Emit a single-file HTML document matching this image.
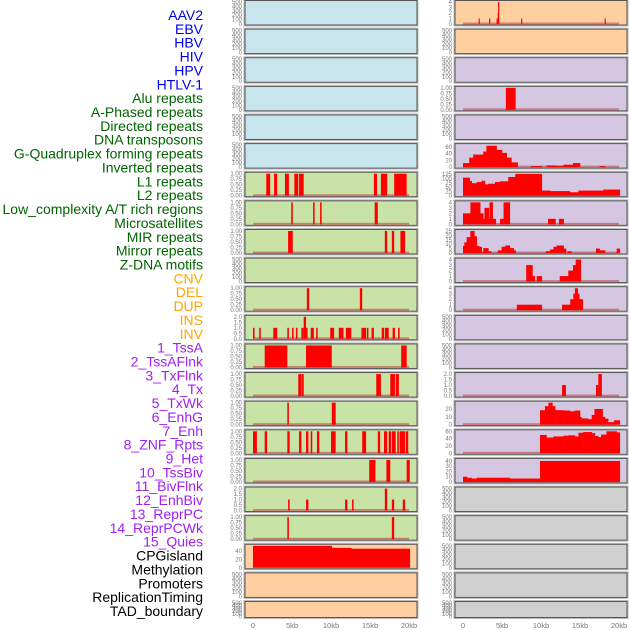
<!DOCTYPE html>
<html><head><meta charset="utf-8"><style>
html,body{margin:0;padding:0;background:#fff;width:630px;height:630px;overflow:hidden}
svg{display:block}
.lab{font-family:"Liberation Sans",sans-serif;font-size:14px}
.tk{font-family:"Liberation Sans",sans-serif;font-size:6px;fill:#777}
.xt{font-family:"Liberation Sans",sans-serif;font-size:7.5px;fill:#777}
</style></head><body>
<svg id="chart" width="630" height="630"></svg>
<script>
// ---------- data ----------
const trackLabels=["AAV2","EBV","HBV","HIV","HPV","HTLV-1","Alu repeats","A-Phased repeats","Directed repeats","DNA transposons","G-Quadruplex forming repeats","Inverted repeats","L1 repeats","L2 repeats","Low_complexity A/T rich regions","Microsatellites","MIR repeats","Mirror repeats","Z-DNA motifs","CNV","DEL","DUP","INS","INV","1_TssA","2_TssAFlnk","3_TxFlnk","4_Tx","5_TxWk","6_EnhG","7_Enh","8_ZNF_Rpts","9_Het","10_TssBiv","11_BivFlnk","12_EnhBiv","13_ReprPC","14_ReprPCWk","15_Quies","CPGisland","Methylation","Promoters","ReplicationTiming","TAD_boundary"];
const xTickVals=[0,5,10,15,20];
const xTickLabels=["0","5kb","10kb","15kb","20kb"];
const ticks500=[0,100,200,300,400,500];
const ticks01=[0,0.25,0.5,0.75,1];
const ticks02=[0,0.5,1,1.5,2];
// left column interval tracks [startKb,endKb,value]
const leftRow6=[[1.7,2.2,1],[2.7,3.1,1],[4.1,4.6,1],[5.3,5.8,1],[5.9,6.5,1],[15.5,15.9,1],[16.4,17.2,1],[18.1,19.7,1]];
const leftRow7=[[4.9,5.1,1],[7.7,7.9,1],[8.6,8.8,1],[15.6,16.0,1]];
const leftRow8=[[4.5,5.1,1],[16.9,17.2,1],[17.8,18.1,1],[18.9,19.5,1]];
const leftRow10=[[6.9,7.2,1],[13.7,14.0,1]];
const leftRow11=[[0,0.2,1],[0.8,1.0,1],[2.6,3.1,1],[4.4,4.6,1],[5.0,5.2,1],[5.5,5.7,1],[6.2,6.5,1],[6.5,6.8,2],[6.8,7.0,1],[7.4,7.8,1],[8.1,8.3,1],[9.9,10.4,1],[11.0,11.6,1],[11.9,12.6,1],[13.9,14.5,1],[14.6,14.8,1],[15.2,15.5,1],[16.5,16.8,1],[16.9,17.4,1],[17.9,18.2,1],[18.6,18.8,1]];
const leftRow12=[[1.5,4.4,1],[6.8,10.1,1],[19.0,19.7,1]];
const leftRow13=[[5.8,6.2,1],[6.25,6.5,1],[15.8,16.4,1],[17.6,18.2,1],[18.3,18.7,1]];
const leftRow14=[[4.4,4.6,1],[10.1,10.6,1]];
const leftRow15=[[0,0.5,1],[1.5,1.8,1],[4.4,4.7,1],[5.9,6.2,1],[6.8,7.1,1],[7.4,7.6,1],[8.2,8.5,1],[10.0,10.6,1],[11.8,12.1,1],[14.0,14.5,1],[16.0,16.3,1],[16.8,17.2,1],[17.4,17.7,1],[17.8,18.3,1],[18.5,18.7,1],[18.8,19.5,1],[19.6,19.9,1]];
const leftRow16=[[14.9,15.7,1],[17.1,17.6,1],[19.7,20.1,1]];
const leftRow17=[[4.5,4.7,1],[6.8,7.1,1],[11.8,12.1,1],[12.7,12.9,1],[16.9,17.2,2],[17.8,18.1,1],[19.2,19.5,1]];
const leftRow18=[[4.4,4.6,1],[17.8,18.1,1]];
const cpgBreaks=[0,10.1,12.6,20.1];
const cpgValues=[53,48,46];
// right column tracks
const rightRow0=[[2.0,2.15,1],[3.35,3.5,1],[4.3,4.45,1],[4.45,4.6,2],[4.5,4.65,4],[7.45,7.6,1],[18.15,18.3,1]];
const rightRow3=[[5.5,6.75,1]];
const gquadBreaks=[0,0.8,1.3,2.6,3.0,4.3,5.0,5.6,6.2,7.0,8.7,10.1,10.7,11.8,12.9,14.1,15.0,17.5,18.2];
const gquadValues=[12,28,37,46,63,51,42,28,14,0,3,0,5,4,7,12,0,3];
const l1Breaks=[0,0.85,1.1,1.75,2.4,2.8,3.25,4.1,4.75,5.8,6.7,10.1,11.15,13.7,14.8,18.0,20.1];
const l1Values=[105,86,73,80,87,66,70,80,84,109,127,30,27,20,30,36];
const lowcBreaks=[0,0.95,2.2,2.6,2.75,3.3,3.4,3.8,4.2,4.75,5.2,6.0,10.9,11.85,12.3,12.9];
const lowcValues=[2,4,2,1,3,1,4,1,0,1,4,0,1,0,1];
const microBreaks=[0,0.17,0.47,0.94,1.45,1.75,2.05,2.4,2.6,3.25,3.6,4.45,4.95,5.4,6.0,6.5,6.75,10.6,11.15,11.6,12.0,12.9,13.2,13.4,13.9,17.05,17.5,18.2,19.7,20.1];
const microValues=[8,12,18,25,19,8,7,1,5.5,2,0,3,7,8.5,5.5,3,0,2,4,7,8.5,5,0,2,0,5,3,0,5];
const mirrorBreaks=[8.1,8.9,9.2,9.45,10.1,12.4,13.5,14.1,14.45,15.1];
const mirrorValues=[3,1,0,1,0,1,2,3,4];
const zdnaBreaks=[6.9,10.1,12.7,13.75,14.15,14.35,14.7,14.9,15.35];
const zdnaValues=[1,0,1,2,3,4,3,2];
const rightRow13=[[12.7,13.2,1],[17.05,17.35,1],[17.35,17.8,2]];
const enhBreaks=[9.87,10.5,10.95,11.45,11.8,12.0,12.9,13.7,14.3,15.0,15.2,16.05,16.5,16.85,17.9,18.2,18.6,19.35,20.1];
const enhValues=[18.4,23.6,28,23.6,19,18.4,18,17,18,9.6,8,7,12.4,20,10,7.6,3.2,5.6];
const znfBreaks=[9.87,10.7,11.6,12.2,12.9,13.5,14.35,14.8,15.4,16.5,16.9,17.35,17.7,18.4,19.7,20.1];
const znfValues=[50,43,46,46,48,49,46,56,58,55,47,44,51,60,57];
const hetBreaks=[0,0.5,1.1,1.75,6.0,9.87,20.1];
const hetValues=[10,8,6.5,8,6.5,40];

// ---------- layout ----------
const svg=document.getElementById('chart');
const NS='http://www.w3.org/2000/svg';
const COLX=[245,455], PW=172, X0=[253,463], PXKB=7.8, PITCH=28.62;
const BG={blue:'#c8e4ec',orange:'#ffcf9f',purple:'#d5c6e1',green:'#c9e2a6',grey:'#d0d0d0'};
function xs(col,kb){return X0[col]+kb*PXKB;}
function mk(tag,attrs,parent){const e=document.createElementNS(NS,tag);for(const k in attrs)e.setAttribute(k,attrs[k]);(parent||svg).appendChild(e);return e;}

// labels
const labColors=i=>i<6?'#0000ee':i<19?'#006400':i<24?'#ffa500':i<39?'#a020f0':'#000';
trackLabels.forEach((t,i)=>{
  const e=mk('text',{x:203,y:15+i*13.86+5,'text-anchor':'end',class:'lab',fill:labColors(i)});
  e.textContent=t;
  
  
});

function fmt(v,ticks){
  if(ticks===ticks01)return v.toFixed(2);
  if(ticks===ticks02)return v.toFixed(1);
  return String(v);
}
function panel(col,row,bg,ymax,ticks,draw,baseline){
  const top=row*PITCH+0.5, H=row===21?16:24.5;
  const g=mk('g',{});
  
  
  mk('rect',{x:COLX[col]-1,y:top-1,width:PW+2,height:H+2,fill:'none',stroke:'#bbb','stroke-width':1},g);
  const r=mk('rect',{x:COLX[col],y:top,width:PW,height:H,fill:BG[bg],stroke:'#555','stroke-width':1},g);
  
  
  const y0=top+H-1, y1=top+1.5;
  const ys=v=>y0-(v/ymax)*(y0-y1);
  ticks.forEach(v=>{
    const t=mk('text',{x:COLX[col]-3,y:ys(v)+2,'text-anchor':'end',class:'tk'},g);
    t.textContent=fmt(v,ticks);
    
    
  });
  if(baseline){
    const b=mk('rect',{x:xs(col,0),y:y0-1.5,width:xs(col,20)-xs(col,0),height:2,fill:'rgba(190,60,60,0.55)'},g);
    
    
  }
  if(draw)draw(g,ys,y0,col);
}
function intervals(arr){return (g,ys,y0,col)=>{arr.forEach(d=>{
  const b=mk('rect',{x:xs(col,d[0]),y:ys(d[2]),width:Math.max(1,xs(col,d[1])-xs(col,d[0])),height:y0-ys(d[2]),fill:'#ff0000'},g);
  
  
});};}
function steps(br,vals){return (g,ys,y0,col)=>{vals.forEach((v,i)=>{
  if(v<=0)return;
  const b=mk('rect',{x:xs(col,br[i]),y:ys(v),width:xs(col,br[i+1])-xs(col,br[i])+0.3,height:y0-ys(v),fill:'#ff0000'},g);
  
  
});};}

// left column
const leftData={6:leftRow6,7:leftRow7,8:leftRow8,10:leftRow10,11:leftRow11,12:leftRow12,13:leftRow13,14:leftRow14,15:leftRow15,16:leftRow16,17:leftRow17,18:leftRow18};
for(let r=0;r<22;r++){
  const bg=r<6?'blue':r<19?'green':'orange';
  if(r===19){panel(0,r,bg,53,[0,20,40],steps(cpgBreaks,cpgValues),false);continue;}
  if(leftData[r]){const two=(r===11||r===17);panel(0,r,bg,two?2:1,two?ticks02:ticks01,intervals(leftData[r]),true);}
  else panel(0,r,bg,500,ticks500,null,false);
}
// right column
const rightSpec={
 0:[4,[0,1,2,3,4],intervals(rightRow0)],
 3:[1,ticks01,intervals(rightRow3)],
 5:[65,[0,20,40,60],steps(gquadBreaks,gquadValues)],
 6:[128,[0,25,50,75,100,125],steps(l1Breaks,l1Values)],
 7:[4,[0,1,2,3,4],steps(lowcBreaks,lowcValues)],
 8:[25,[0,5,10,15,20,25],steps(microBreaks,microValues)],
 9:[4,[0,1,2,3,4],steps(mirrorBreaks,mirrorValues)],
 10:[4,[0,1,2,3,4],steps(zdnaBreaks,zdnaValues)],
 13:[2,ticks02,intervals(rightRow13)],
 14:[28,[0,10,20],steps(enhBreaks,enhValues)],
 15:[60,[0,20,40,60],steps(znfBreaks,znfValues)],
 16:[42,[0,10,20,30,40],steps(hetBreaks,hetValues)]
};
for(let r=0;r<22;r++){
  const bg=r<2?'orange':r<17?'purple':'grey';
  const s=rightSpec[r];
  if(s)panel(1,r,bg,s[0],s[1],s[2],true);
  else panel(1,r,bg,500,ticks500,null,false);
}
// x axes
[0,1].forEach(col=>{
  xTickVals.forEach((v,i)=>{
    const t=mk('text',{x:xs(col,v),y:628,'text-anchor':'middle',class:'xt'});
    t.textContent=xTickLabels[i];
    
    
  });
});
</script>
</body></html>
